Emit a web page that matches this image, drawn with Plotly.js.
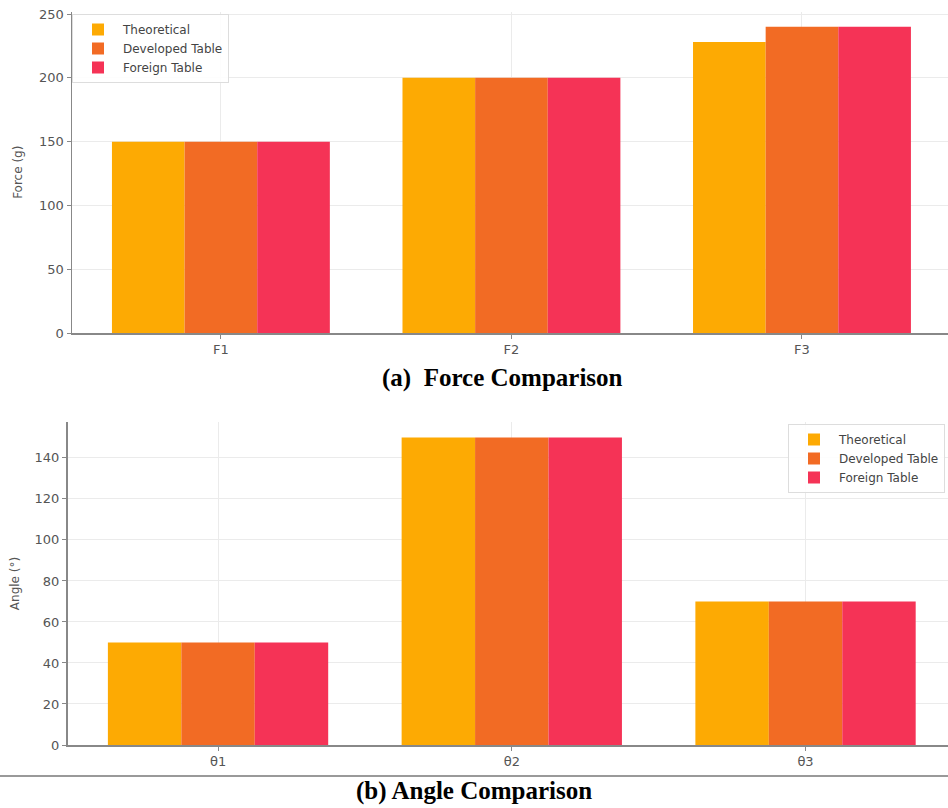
<!DOCTYPE html>
<html>
<head>
<meta charset="utf-8">
<script src="https://cdn.plot.ly/plotly-3.0.1.min.js"></script>
<style>html,body{margin:0;padding:0;background:#fff;}#chart{width:948px;height:808px;}</style>
</head>
<body>
<div id="chart"></div>
<script>
// Data
const forceCategories = ["F1", "F2", "F3"];
const forceTheoretical = [150, 200, 228];
const forceDeveloped = [150, 200, 240];
const forceForeign = [150, 200, 240];

const angleCategories = ["θ1", "θ2", "θ3"];
const angleTheoretical = [50, 150, 70];
const angleDeveloped = [50, 150, 70];
const angleForeign = [50, 150, 70];

const seriesNames = ["Theoretical", "Developed Table", "Foreign Table"];
const seriesColors = ["#FDAA03", "#F26B24", "#F53356"];

const W = 948, H = 808;
const tickFont = {family: "DejaVu Sans", size: 13, color: "#555"};

function bars(cats, vals, i, ax, leg) {
  return {
    type: "bar", x: cats, y: vals, name: seriesNames[i],
    marker: {color: seriesColors[i], line: {width: 0}},
    xaxis: "x" + ax, yaxis: "y" + ax, legend: leg,
    hoverinfo: "skip"
  };
}

const data = [
  bars(forceCategories, forceTheoretical, 0, "", "legend"),
  bars(forceCategories, forceDeveloped, 1, "", "legend"),
  bars(forceCategories, forceForeign, 2, "", "legend"),
  bars(angleCategories, angleTheoretical, 0, "2", "legend2"),
  bars(angleCategories, angleDeveloped, 1, "2", "legend2"),
  bars(angleCategories, angleForeign, 2, "2", "legend2")
];

function xax(domain, range, anchor) {
  return {
    domain: domain, range: range, anchor: anchor, type: "category",
    showgrid: true, gridcolor: "#ebebeb", gridwidth: 1,
    showline: true, linecolor: "#888", linewidth: 1.5,
    ticks: "outside", ticklen: 4, tickcolor: "#888",
    tickfont: tickFont, zeroline: false, fixedrange: true
  };
}
function yax(domain, range, anchor, title, dtick, standoff) {
  return {
    domain: domain, range: range, anchor: anchor,
    dtick: dtick, tick0: 0,
    showgrid: true, gridcolor: "#ebebeb", gridwidth: 1,
    showline: true, linecolor: "#888", linewidth: 1.5,
    ticks: "outside", ticklen: 4, tickcolor: "#888",
    tickfont: tickFont, zeroline: false,
    title: {text: title, font: {family: "DejaVu Sans", size: 12, color: "#555"}, standoff: standoff},
    fixedrange: true
  };
}

const legendFont = {family: "DejaVu Sans", size: 12, color: "#444"};

const layout = {
  width: W, height: H,
  margin: {l: 0, r: 0, t: 0, b: 0},
  paper_bgcolor: "#fff", plot_bgcolor: "#fff",
  barmode: "group", bargap: 0.25, bargroupgap: 0,
  showlegend: true,
  xaxis: xax([72 / W, 1], [-0.5125, 2.5026], "y"),
  yaxis: yax([(H - 333) / H, (H - 11.5) / H], [0, 252], "x", "Force (g)", 50, 14),
  xaxis2: xax([67.5 / W, 1], [-0.5125, 2.485], "y2"),
  yaxis2: yax([(H - 745) / H, (H - 422) / H], [0, 157.5], "x2", "Angle (°)", 20, 12),
  legend: {
    x: 72 / W, y: (H - 14) / H, xanchor: "left", yanchor: "top",
    bgcolor: "rgba(255,255,255,0.9)", bordercolor: "#dddddd", borderwidth: 1,
    font: legendFont, tracegroupgap: 0, itemwidth: 40
  },
  legend2: {
    x: 788 / W, y: (H - 424) / H, xanchor: "left", yanchor: "top",
    bgcolor: "rgba(255,255,255,0.9)", bordercolor: "#dddddd", borderwidth: 1,
    font: legendFont, tracegroupgap: 0, itemwidth: 40
  },
  shapes: [
    {type: "line", xref: "paper", yref: "paper", x0: 0, x1: 1,
     y0: (H - 776) / H, y1: (H - 776) / H, line: {color: "#777", width: 1.5}}
  ],
  annotations: [
    {text: "<b>(a)  Force Comparison</b>", xref: "paper", yref: "paper",
     x: 502 / W, y: (H - 378) / H, xanchor: "center", yanchor: "middle", showarrow: false,
     font: {family: "Liberation Serif", size: 25, color: "#000"}},
    {text: "<b>(b) Angle Comparison</b>", xref: "paper", yref: "paper",
     x: 474 / W, y: (H - 791) / H, xanchor: "center", yanchor: "middle", showarrow: false,
     font: {family: "Liberation Serif", size: 25, color: "#000"}}
  ]
};

Plotly.newPlot("chart", data, layout, {staticPlot: true, displayModeBar: false});
</script>
</body>
</html>
